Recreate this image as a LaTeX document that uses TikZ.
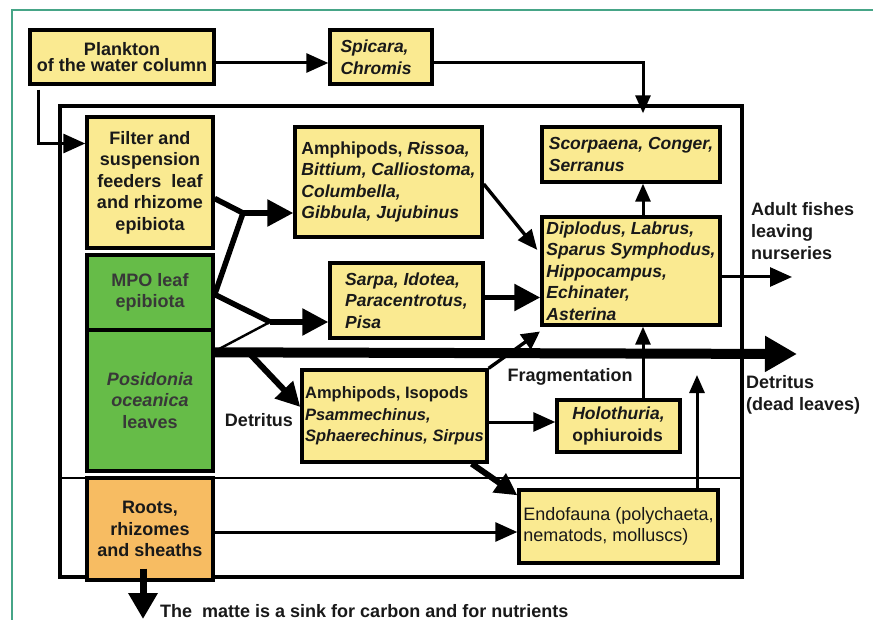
\documentclass[tikz,border=0pt]{standalone}
\usepackage{fontspec}
\setmainfont{Liberation Sans}
\usetikzlibrary{arrows.meta}
\definecolor{byellow}{RGB}{250,234,145}
\definecolor{bgreen}{RGB}{102,188,72}
\definecolor{borange}{RGB}{247,188,98}
\definecolor{frameteal}{RGB}{70,165,135}
\definecolor{txt}{RGB}{25,25,25}
\tikzset{
  box/.style={draw=black, line width=3.4pt, fill=byellow, inner sep=0pt, text=txt,
    font=\fontsize{18}{21.5}\selectfont\bfseries},
  lbox/.style={box, align=left, font=\fontsize{17.5}{21.5}\selectfont\bfseries},
  cbox/.style={box, align=center},
  thinarrow/.style={line width=3pt, -{Triangle[length=22pt,width=19pt]}},
  smallarrow/.style={line width=3pt, -{Triangle[length=18pt,width=15pt]}},
  thickarrow/.style={line width=5.5pt, -{Triangle[length=26pt,width=26pt]}},
  thickline/.style={line width=5.5pt},
  thinline/.style={line width=2.4pt},
  lbl/.style={font=\fontsize{18}{22}\selectfont\bfseries, text=txt, inner sep=0pt, align=left}
}
\begin{document}
\begin{tikzpicture}[x=1pt,y=-1pt]
\useasboundingbox (0,0) rectangle (873,620);
% outer teal frame (cropped)
\draw[frameteal, line width=1.4pt] (12,620) -- (12,10) -- (873,10);
% inner frame
\draw[line width=3.2pt] (60,106) rectangle (742,577);
\draw[line width=1.6pt] (60,478) -- (742,478);

% boxes
\node[cbox, minimum width=184pt, minimum height=54pt, font=\fontsize{18}{16.5}\selectfont\bfseries] (plankton) at (122,57) {Plankton\\of the water column};
\node[lbox, minimum width=102pt, minimum height=54pt] (spicara) at (381,57) {\textit{Spicara,}\\\textit{Chromis}\hspace*{10pt}};
\node[cbox, minimum width=126pt, minimum height=131pt] (filter) at (150,182.5) {Filter and\\suspension\\feeders\ \ leaf\\and rhizome\\epibiota};
\node[cbox, fill=bgreen, minimum width=126pt, minimum height=75pt, text=black!78] (mpo) at (150,292.5) {MPO leaf\\epibiota};
\node[cbox, fill=bgreen, minimum width=126pt, minimum height=141pt, text=black!78] (posidonia) at (150,400.5) {\textit{Posidonia}\\\textit{oceanica}\\leaves};
\node[cbox, fill=borange, minimum width=126pt, minimum height=102pt] (roots) at (150,529) {Roots,\\rhizomes\\and sheaths};

\node[lbox, minimum width=187pt, minimum height=110pt] (amphA) at (388.5,182) {Amphipods, \textit{Rissoa,}\\\textit{Bittium, Calliostoma,}\\\textit{Columbella,}\\\textit{Gibbula, Jujubinus}};
\node[lbox, minimum width=153pt, minimum height=75pt] (sarpa) at (406.5,300.5) {\textit{Sarpa, Idotea,}\\\textit{Paracentrotus,}\\\textit{Pisa}};
\node[lbox, minimum width=178pt, minimum height=55pt] (scorp) at (631,154.5) {\textit{Scorpaena, Conger,}\\\textit{Serranus}};
\node[lbox, minimum width=178pt, minimum height=108pt] (diplo) at (631,271) {\textit{Diplodus, Labrus,}\\\textit{Sparus Symphodus,}\\\textit{Hippocampus,}\\\textit{Echinater,}\\\textit{Asterina}};
\node[lbox, minimum width=185pt, minimum height=92pt, font=\fontsize{16.5}{21.5}\selectfont\bfseries] (amphB) at (394.5,416) {Amphipods, Isopods\\\textit{Psammechinus,}\\\textit{Sphaerechinus, Sirpus}};
\node[lbox, minimum width=123pt, minimum height=52pt] (holo) at (618.5,426) {\textit{Holothuria,}\\ophiuroids};
\node[lbox, minimum width=199pt, minimum height=73pt, font=\fontsize{18}{21}\selectfont] (endo) at (618.5,526.5) {Endofauna (polychaeta,\\nematods, molluscs)};

% coordinates
\coordinate (j1) at (243,213);
\coordinate (j2) at (270,322);
\coordinate (bigend) at (797,354);
\coordinate (d1) at (250,354);
\coordinate (e1) at (697,375);
\coordinate (out1) at (792,277);
\coordinate (sink) at (143,619);

% connectors
\draw[thinarrow] ([yshift=-6pt]plankton.east) -- ([yshift=-6pt]spicara.west);
\draw[smallarrow] ([yshift=-6pt]spicara.east) -| ([shift={(12pt,12pt)}]scorp.north);
\draw[thinarrow] ([xshift=-84pt,yshift=-4pt]plankton.south) |- ([yshift=39pt]filter.west);

\draw[thickline] ([yshift=-16pt]filter.east) -- (j1);
\draw[thickline] ([yshift=-2pt]mpo.east) -- (j1);
\draw[thickarrow] (j1) -- (j1 -| amphA.west);

\draw[thickline] ([yshift=-2pt]mpo.east) -- (j2);
\draw[thinline] ([yshift=-23pt]posidonia.north east) -- (j2);
\draw[thickarrow] (j2) -- (j2 -| sarpa.west);

\draw[line width=10pt, -{Triangle[length=32pt,width=34pt]}] ([yshift=-24pt]posidonia.north east) -- (bigend);
\draw[line width=6pt, -{Triangle[length=24pt,width=24pt]}] (d1) -- ([yshift=9pt]amphB.west);
\node[lbl] (detlbl) at (259,420) {Detritus};

\draw[line width=3.4pt, -{Triangle[length=18pt,width=18pt]}, shorten >=-2pt] (amphB.north east) -- ([shift={(-2pt,-6pt)}]diplo.south west);
\node[lbl] (fraglbl) at (570,377) {Fragmentation};

\draw[thinarrow] ([yshift=-6pt]amphB.east) -- ([yshift=4pt]holo.west);
\draw[smallarrow] ([xshift=24.5pt]holo.north) -- ([xshift=12pt]diplo.south);
\draw[smallarrow] ([xshift=78.5pt]endo.north) -- (e1);
\draw[line width=6pt, -{Triangle[length=22pt,width=22pt]}] ([xshift=-17pt]amphB.south east) -- ([yshift=-7pt]endo.north west);
\draw[thinarrow] ([yshift=-3pt]roots.east) -- ([yshift=-5.5pt]endo.west);

\draw[line width=3.4pt, -{Triangle[length=20pt,width=17pt]}] ([yshift=-2pt]amphA.east) -- ([xshift=-3pt,yshift=21pt]diplo.west);
\draw[thickarrow] ([yshift=3pt]sarpa.east) -- ([yshift=-26.5pt]diplo.west);
\draw[smallarrow] ([xshift=12pt]diplo.north) -- ([xshift=12pt]scorp.south);
\draw[thinarrow] ([yshift=-6pt]diplo.east) -- (out1);

\draw[line width=7pt, -{Triangle[length=26pt,width=28pt]}] ([xshift=-7pt,yshift=13pt]roots.south) -- (sink);

% labels
\node[lbl, anchor=north west] (adult) at (751,202) {Adult fishes\\leaving\\nurseries};
\node[lbl, anchor=north west] (detdead) at (746,375) {Detritus\\(dead leaves)};
\node[lbl, anchor=west] (matte) at (160,611) {The\ \ matte is a sink for carbon and for nutrients};
\end{tikzpicture}
\end{document}
